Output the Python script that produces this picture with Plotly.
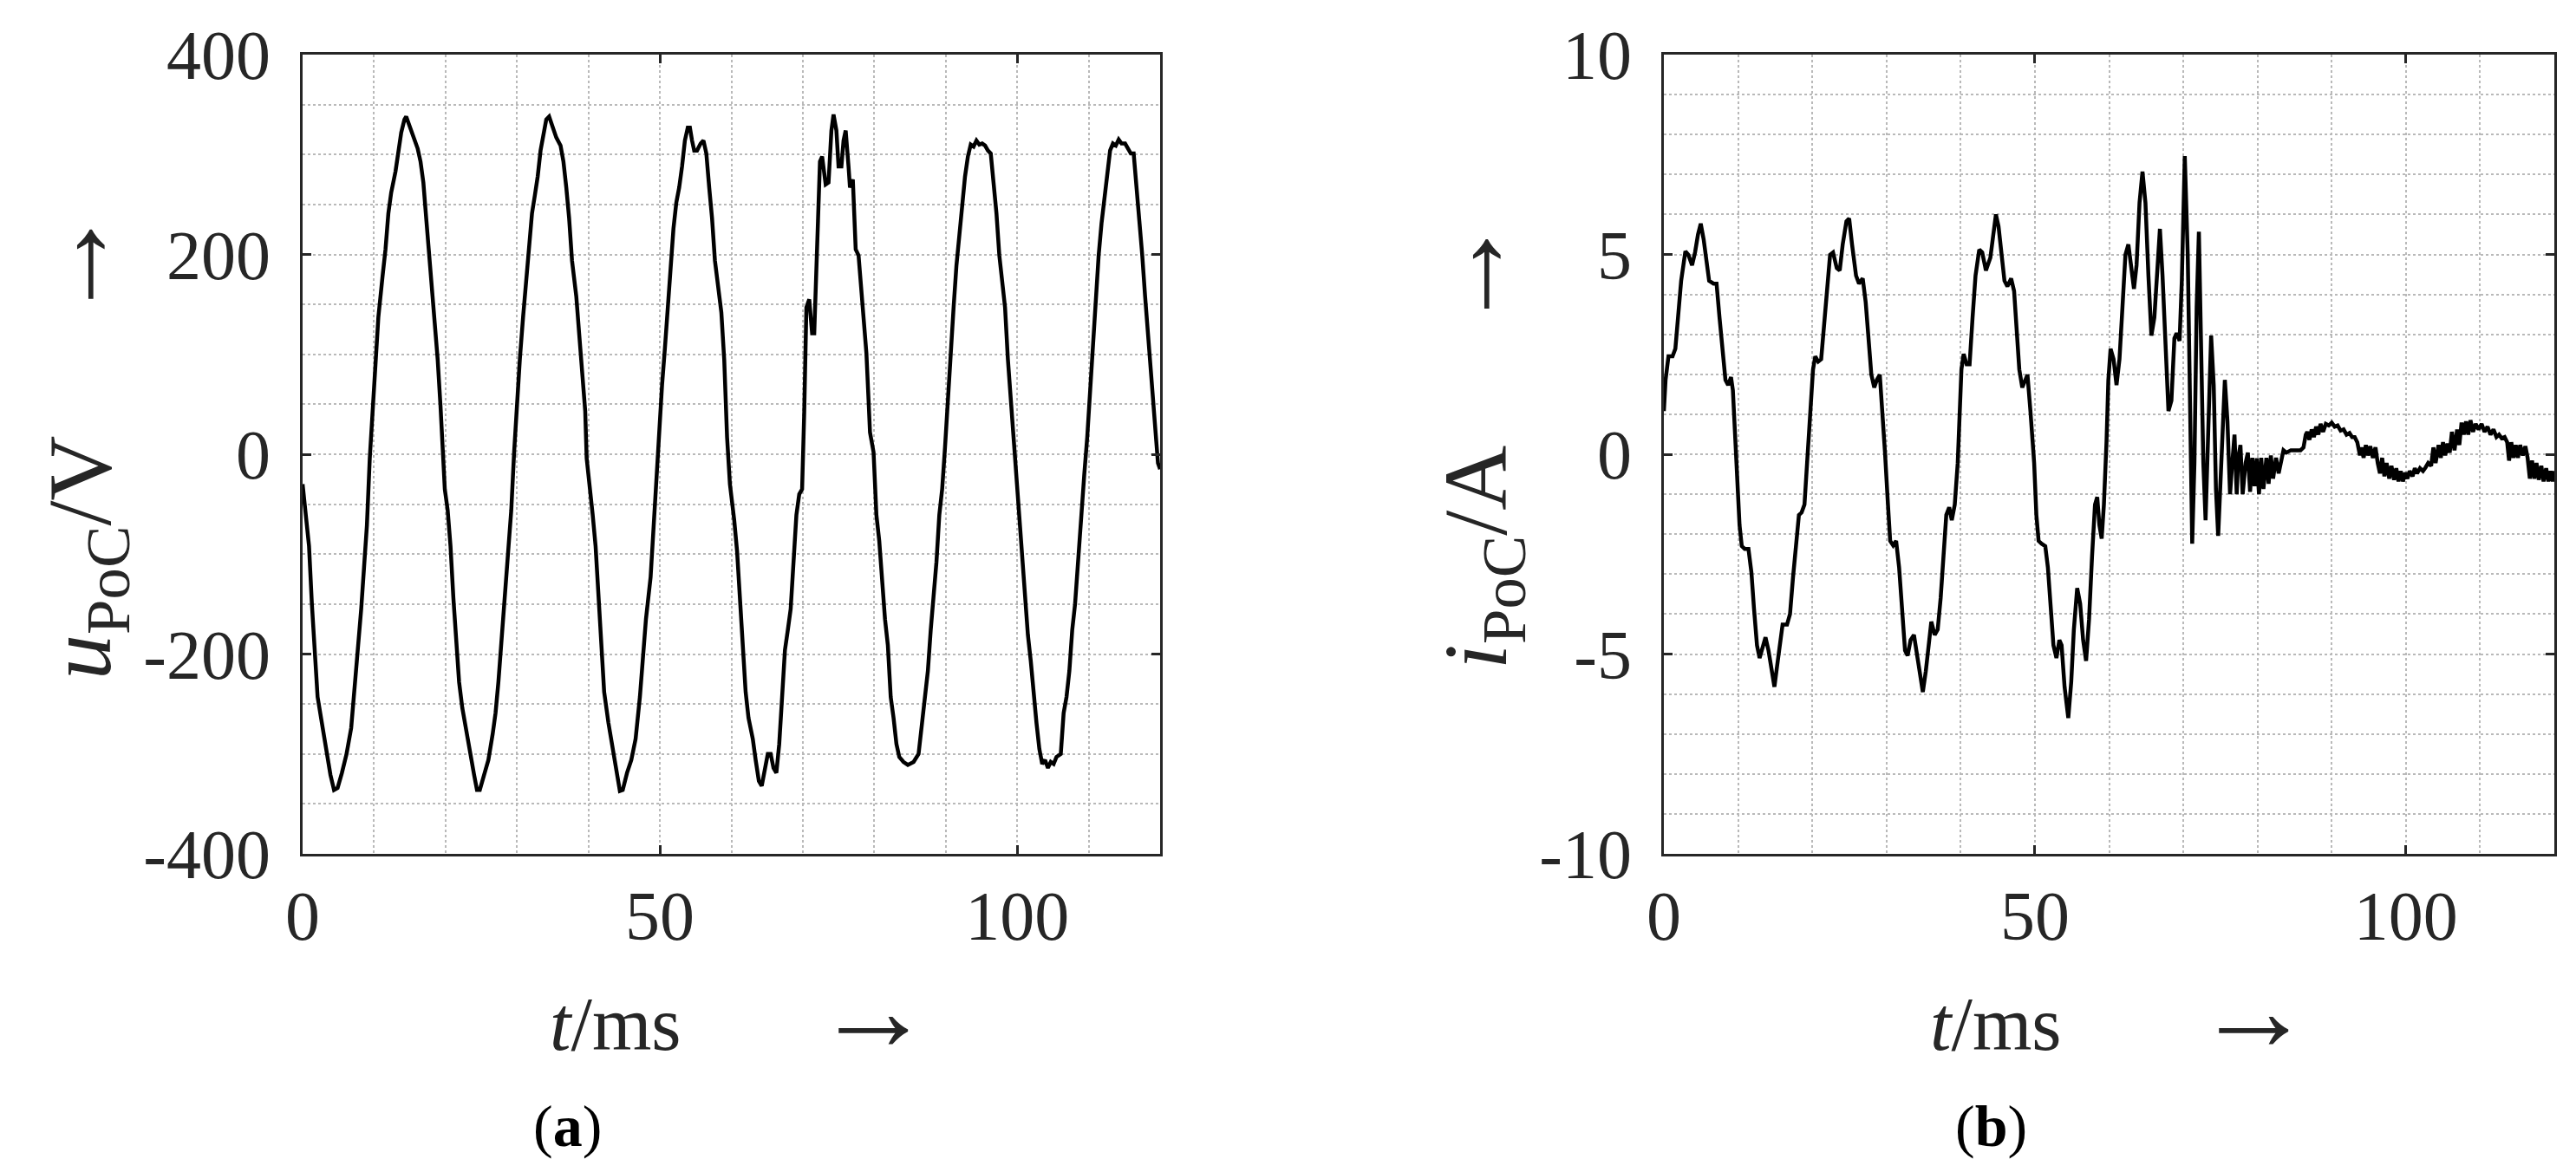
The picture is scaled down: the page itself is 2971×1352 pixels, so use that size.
import plotly.graph_objects as go

# ---------------- data ----------------
t_u = [0, 0.5, 0.9, 1.3, 1.7, 2.1, 2.7, 3.3, 3.9, 4.4, 4.9, 5.5, 6.15, 6.8, 7.2, 7.6, 8.2, 8.6, 9.0, 9.4,
       9.8, 10.2, 10.6, 11.2, 11.6, 12.0, 12.4, 13.0, 13.4, 13.8, 14.25, 14.5, 14.9, 15.5, 16.1, 16.5, 16.9,
       17.3, 17.7, 18.1, 18.5, 18.9, 19.3, 19.6, 19.9, 20.3, 20.7, 21.1, 21.5, 21.9, 22.35, 22.75, 23.4, 24.0,
       24.4, 24.8, 25.4, 26.0, 26.6, 27.0, 27.4, 27.8, 28.4, 28.8, 29.2, 29.6, 30.0, 30.4, 30.85, 31.3, 31.7,
       32.1, 32.5, 32.9, 33.3, 33.7, 34.1, 34.5, 34.9, 35.5, 36.1, 36.5, 36.9, 37.3, 37.7, 38.3, 38.7, 39.15,
       39.55, 39.75, 40.2, 40.6, 41.0, 41.4, 41.8, 42.2, 42.8, 43.4, 44.0, 44.4, 44.8, 45.4, 46.0, 46.6, 47.2,
       47.65, 48.05, 48.7, 49.1, 49.5, 49.9, 50.3, 50.7, 51.1, 51.5, 51.9, 52.3, 52.7, 53.1, 53.5, 53.9, 54.2,
       54.5, 54.8, 55.2, 55.7, 56.1, 56.5, 56.9, 57.3, 57.7, 58.2, 58.6, 59.0, 59.4, 59.8, 60.0, 60.4, 60.8,
       61.2, 61.6, 62.0, 62.4, 63.0, 63.4, 63.85, 64.25, 64.65, 65.1, 65.5, 65.9, 66.3, 66.7, 67.1, 67.5, 67.9,
       68.3, 68.7, 69.1, 69.5, 69.9, 70.2, 70.5, 70.9, 71.3, 71.6, 72.0, 72.4, 72.7, 73.2, 73.6, 74.0, 74.3,
       74.7, 75.0, 75.4, 75.7, 76.0, 76.4, 76.6, 77.0, 77.4, 77.8, 78.2, 78.6, 78.9, 79.2, 79.4, 79.9, 80.3,
       80.7, 81.1, 81.5, 81.9, 82.3, 82.7, 83.1, 83.5, 84.1, 84.7, 85.5, 86.2, 86.7, 87.1, 87.5, 87.9, 88.3,
       88.7, 89.1, 89.5, 89.9, 90.3, 90.7, 91.1, 91.5, 91.9, 92.3, 92.7, 93.1, 93.5, 93.9, 94.3, 94.7, 95.1,
       95.5, 95.9, 96.3, 96.7, 97.1, 97.5, 97.9, 98.3, 98.7, 99.1, 99.5, 99.9, 100.3, 100.7, 101.1, 101.5,
       101.9, 102.3, 102.7, 103.1, 103.5, 103.9, 104.3, 104.7, 105.1, 105.5, 106.1, 106.5, 106.9, 107.3,
       107.7, 108.1, 108.5, 108.9, 109.4, 109.8, 110.2, 110.6, 111.0, 111.4, 111.8, 112.2, 112.6, 113.0,
       113.4, 113.8, 114.2, 114.6, 115.1, 115.5, 115.9, 116.3, 116.7, 117.1, 117.5, 117.9, 118.3, 118.7,
       119.1, 119.5, 119.7, 120.0]
u_vals = [-30, -61, -92, -150, -202, -243, -269, -295, -321, -336, -334, -319, -300, -274, -243, -202, -155,
          -113, -71, -4, 48, 90, 137, 179, 205, 241, 262, 283, 304, 322, 335, 338, 330, 317, 306, 293, 272,
          236, 199, 168, 137, 95, 48, -4, -35, -56, -92, -144, -191, -228, -254, -269, -295, -321, -336,
          -336, -321, -306, -280, -259, -228, -191, -139, -103, -56, 2, 54, 95, 137, 173, 199, 241, 259, 278,
          304, 322, 335, 338, 330, 317, 309, 293, 267, 236, 194, 158, 121, 85, 43, -4, -40, -61, -92, -144,
          -191, -238, -269, -295, -321, -337, -336, -319, -306, -285, -243, -202, -165, -123, -71, -24, 22,
          69, 106, 147, 189, 226, 252, 267, 288, 314, 327, 327, 314, 304, 304, 311, 314, 301, 267, 236, 194,
          168, 142, 95, 17, -30, -40, -66, -97, -144, -196, -238, -264, -285, -306, -327, -332, -316, -300,
          -300, -314, -319, -290, -243, -196, -176, -155, -108, -61, -40, -35, 43, 147, 155, 121, 121, 199,
          293, 298, 270, 272, 324, 340, 324, 288, 288, 314, 324, 288, 267, 275, 205, 199, 163, 116, 101, 54,
          22, 2, -61, -87, -129, -165, -191, -243, -264, -290, -303, -308, -311, -308, -300, -269, -243,
          -217, -176, -144, -108, -61, -35, 7, 59, 106, 147, 189, 220, 252, 278, 298, 310, 308, 314, 310,
          311, 309, 304, 301, 272, 241, 199, 168, 147, 95, 54, 17, -24, -61, -108, -144, -181, -207, -243,
          -269, -295, -310, -306, -314, -308, -310, -303, -300, -259, -243, -217, -176, -150, -108, -61,
          -19, 17, 64, 106, 147, 199, 231, 257, 278, 304, 311, 309, 315, 311, 311, 306, 301, 301, 267, 241,
          199, 158, 121, 80, 54, 12, -9, -15]

t_i = [0, 0.23, 0.62, 1.17, 1.55, 1.94, 2.33, 2.9, 3.3, 3.8, 4.2, 4.6, 4.97, 5.36, 5.75, 6.1, 6.7, 7.1, 7.5,
       7.9, 8.3, 8.66, 9.05, 9.3, 9.6, 9.9, 10.2, 10.5, 10.9, 11.4, 11.8, 12.15, 12.55, 12.9, 13.3, 13.7,
       14.1, 14.5, 14.9, 15.26, 15.65, 16.0, 16.6, 17.0, 17.4, 17.8, 18.2, 18.56, 18.95, 19.3, 19.7, 20.1,
       20.4, 20.8, 21.2, 21.6, 22.06, 22.4, 22.8, 23.3, 23.7, 24.1, 24.6, 24.97, 25.36, 25.9, 26.3, 26.8,
       27.2, 27.6, 27.96, 28.35, 28.7, 29.1, 29.4, 29.8, 30.2, 30.5, 30.9, 31.3, 31.7, 32.1, 32.5, 32.85,
       33.25, 33.7, 34.1, 34.5, 34.9, 35.3, 35.65, 36.04, 36.5, 36.9, 37.3, 37.7, 38.06, 38.45, 38.8, 39.2,
       39.6, 40.1, 40.4, 40.8, 41.2, 41.6, 42.0, 42.5, 42.9, 43.4, 44.0, 44.4, 44.75, 45.1, 45.5, 45.9, 46.3,
       46.8, 47.2, 47.55, 47.9, 48.3, 48.7, 49.0, 49.4, 49.9, 50.2, 50.5, 50.9, 51.4, 51.75, 52.1, 52.5,
       52.9, 53.3, 53.6, 54.0, 54.5, 54.9, 55.25, 55.7, 56.1, 56.5, 56.9, 57.3, 57.7, 58.1, 58.4, 58.7,
       59.0, 59.3, 59.65, 59.9, 60.2, 60.6, 61.0, 61.4, 61.8, 62.2, 62.6, 62.95, 63.35, 63.7, 64.1, 64.5,
       64.9, 65.3, 65.7, 66.1, 66.5, 66.85, 67.2, 67.6, 68.0, 68.4, 68.8, 69.1, 69.5, 69.8, 70.2, 70.6,
       70.9, 71.2, 71.5, 71.8, 72.1, 72.4, 72.7, 73.0, 73.35, 73.75, 74.1, 74.4, 74.7, 75.1, 75.6, 75.95,
       76.3, 76.6, 76.9, 77.2, 77.4, 77.7, 78.0, 78.4, 78.7, 79.0, 79.3, 79.6, 79.9, 80.2, 80.5, 80.8, 81.2,
       81.5, 81.8, 82.1, 82.5, 82.85, 83.2, 83.5, 83.9, 84.5, 85.1, 85.8, 86.2, 86.5, 86.7, 87.0, 87.3,
       87.6, 87.9, 88.2, 88.5, 88.85, 89.2, 89.6, 90.0, 90.4, 90.8, 91.2, 91.6, 92.0, 92.4, 92.75, 93.1,
       93.45, 93.8, 94.0, 94.3, 94.6, 94.9, 95.2, 95.55, 95.9, 96.2, 96.5, 96.8, 97.1, 97.4, 97.75, 98.05,
       98.4, 98.7, 99.0, 99.3, 99.6, 99.9, 100.2, 100.5, 100.9, 101.2, 101.5, 101.9, 102.3, 102.65, 103.0,
       103.4, 103.7, 104.0, 104.4, 104.7, 105.0, 105.3, 105.6, 105.9, 106.2, 106.55, 106.9, 107.2, 107.5,
       107.8, 108.1, 108.4, 108.7, 109.05, 109.4, 109.8, 110.2, 110.6, 111.0, 111.4, 111.8, 112.2, 112.55,
       112.9, 113.3, 113.65, 113.9, 114.2, 114.5, 114.8, 115.1, 115.4, 115.75, 116.1, 116.4, 116.7, 117.0,
       117.3, 117.6, 117.9, 118.25, 118.55, 118.9, 119.2, 119.5, 119.8, 120.0]
i_vals = [1.08, 1.86, 2.45, 2.45, 2.64, 3.42, 4.34, 5.08, 4.99, 4.73, 5.05, 5.5, 5.77, 5.38, 4.86, 4.34,
          4.27, 4.27, 3.42, 2.64, 1.86, 1.73, 1.93, 1.6, 0.56, -0.61, -1.78, -2.3, -2.37, -2.37, -2.96,
          -3.87, -4.78, -5.1, -4.84, -4.58, -4.91, -5.43, -5.82, -5.3, -4.65, -4.26, -4.26, -4.0, -3.09,
          -2.17, -1.52, -1.46, -1.26, -0.22, 1.08, 2.12, 2.45, 2.32, 2.38, 3.3, 4.2, 4.99, 5.05, 4.66, 4.6,
          5.25, 5.83, 5.9, 5.25, 4.47, 4.27, 4.4, 3.8, 2.9, 1.99, 1.67, 1.86, 1.99, 1.21, 0.04, -1.26, -2.17,
          -2.28, -2.17, -2.83, -3.87, -4.91, -5.04, -4.65, -4.52, -5.04, -5.56, -5.95, -5.43, -4.78, -4.19,
          -4.52, -4.39, -3.6, -2.43, -1.52, -1.33, -1.65, -1.26, -0.22, 2.12, 2.51, 2.25, 2.25, 3.42, 4.47,
          5.12, 5.05, 4.6, 4.92, 5.5, 6.0, 5.7, 4.99, 4.34, 4.2, 4.4, 4.08, 3.03, 2.12, 1.67, 1.86, 1.99,
          1.08, -0.22, -1.52, -2.17, -2.24, -2.3, -2.83, -3.87, -4.78, -5.1, -4.65, -4.78, -5.82, -6.6,
          -5.69, -4.39, -3.35, -3.74, -4.65, -5.17, -4.13, -2.56, -1.26, -1.07, -1.78, -2.11, -1.26, 0.3,
          1.86, 2.64, 2.38, 1.73, 2.38, 3.68, 4.99, 5.25, 4.73, 4.14, 4.73, 6.29, 7.07, 6.29, 4.47, 2.97,
          3.42, 4.73, 5.64, 4.47, 2.64, 1.08, 1.34, 2.9, 3.03, 2.84, 4.34, 7.46, 4.99, 1.08, -2.24, -0.22,
          3.68, 5.57, 2.38, -0.22, -1.65, 0.43, 2.97, 1.73, -0.87, -2.04, -0.22, 1.86, 0.82, -1.0, -0.22,
          0.49, -1.0, -0.09, 0.23, -1.0, -0.22, 0.04, -0.94, -0.09, -0.8, -0.1, -1.0, -0.09, -0.87, -0.09,
          -0.74, -0.03, -0.61, -0.09, -0.48, -0.22, 0.1, 0.04, 0.1, 0.1, 0.1, 0.17, 0.49, 0.56, 0.36, 0.62,
          0.43, 0.69, 0.49, 0.76, 0.56, 0.76, 0.72, 0.79, 0.69, 0.72, 0.59, 0.62, 0.49, 0.53, 0.43, 0.43,
          0.3, -0.03, 0.17, -0.09, 0.23, -0.03, 0.2, -0.09, 0.17, -0.22, -0.48, -0.09, -0.55, -0.22, -0.61,
          -0.29, -0.64, -0.35, -0.68, -0.42, -0.68, -0.46, -0.61, -0.42, -0.55, -0.35, -0.48, -0.35, -0.42,
          -0.33, -0.22, -0.29, 0.17, -0.22, 0.23, -0.09, 0.3, -0.03, 0.27, 0.04, 0.56, 0.1, 0.62, 0.23,
          0.79, 0.49, 0.82, 0.49, 0.85, 0.56, 0.76, 0.62, 0.76, 0.56, 0.69, 0.49, 0.62, 0.43, 0.49, 0.4,
          0.43, 0.3, -0.16, 0.3, -0.09, 0.23, -0.09, 0.23, -0.03, 0.2, -0.09, -0.61, -0.16, -0.61, -0.22,
          -0.64, -0.29, -0.68, -0.35, -0.68, -0.42, -0.68, -0.42]

x_ticks = [0, 50, 100]
u_ticks = [-400, -200, 0, 200, 400]
u_ticktext = ["-400", "-200", "0", "200", "400"]
i_ticks = [-10, -5, 0, 5, 10]
i_ticktext = ["-10", "-5", "0", "5", "10"]

# ---------------- figure ----------------
W, H = 2971, 1352          # browser window
OFF = 8                    # default page body margin
FW, FH = W - 2 * OFF, H - 2 * OFF
FONT = "Liberation Serif"
TXT = "#262626"
GRID = "#b9b9b9"

fig = go.Figure()
fig.add_trace(go.Scatter(x=t_u, y=u_vals, mode="lines", line=dict(color="black", width=4.5),
                         xaxis="x", yaxis="y", showlegend=False))
fig.add_trace(go.Scatter(x=t_i, y=i_vals, mode="lines", line=dict(color="black", width=4.5),
                         xaxis="x2", yaxis="y2", showlegend=False))


def px_x(p):
    return (p - OFF) / FW


def px_y(p):
    return 1 - (p - OFF) / FH


def axis_common(tickvals, ticktext, rng, minor_dtick, anchor, domain, is_x):
    d = dict(
        domain=domain, anchor=anchor, range=rng, tickmode="array", tickvals=tickvals,
        ticks="inside", ticklen=10, tickwidth=3, tickcolor=TXT,
        showline=True, linewidth=3, linecolor=TXT, mirror="ticks",
        showgrid=True, gridcolor=GRID, gridwidth=2, griddash="dot",
        minor=dict(dtick=minor_dtick, tick0=0, showgrid=True, gridcolor=GRID, gridwidth=2,
                   griddash="dot", ticks=""),
        zeroline=False, tickfont=dict(family=FONT, size=80, color=TXT),
        ticklabelstandoff=0 if is_x else 18, fixedrange=True, automargin=False,
    )
    if ticktext is not None:
        d["ticktext"] = ticktext
    return d


xd1 = [px_x(349), px_x(1338)]
xd2 = [px_x(1919), px_x(2946)]
yd = [px_y(985), px_y(63)]

fig.update_layout(
    width=FW, height=FH, autosize=False,
    margin=dict(l=0, r=0, t=0, b=0, pad=0, autoexpand=False),
    paper_bgcolor="white", plot_bgcolor="white",
    xaxis=axis_common(x_ticks, None, [0, 120], 10, "y", xd1, True),
    yaxis=axis_common(u_ticks, u_ticktext, [-400, 400], 50, "x", yd, False),
    xaxis2=axis_common(x_ticks, None, [0, 120], 10, "y2", xd2, True),
    yaxis2=axis_common(i_ticks, i_ticktext, [-10, 10], 1, "x2", yd, False),
)

NB = "\u00a0"
ARROW = "<span style=\"font-size:135px\">→</span>"
xtitle = "<i>t</i>/ms" + NB * 7 + ARROW
ann = [
    dict(text=xtitle, x=px_x(854), y=px_y(1165), size=88),
    dict(text=xtitle, x=px_x(2446), y=px_y(1165), size=88),
    dict(text="<i>u</i><sub>PoC</sub>/V" + NB * 5 + ARROW, x=px_x(86), y=px_y(511),
         textangle=-90, size=104),
    dict(text="<i>i</i><sub>PoC</sub>/A" + NB * 5 + ARROW, x=px_x(1696), y=px_y(511),
         textangle=-90, size=104),
]
for a in ann:
    sz = a.pop("size")
    fig.add_annotation(xref="paper", yref="paper", showarrow=False, xanchor="center", yanchor="middle",
                       font=dict(family=FONT, size=sz, color=TXT), **a)

for lab, xc in (("a", 654), ("b", 2296)):
    fig.add_annotation(xref="paper", yref="paper", showarrow=False, xanchor="center", yanchor="middle",
                       x=px_x(xc), y=px_y(1299), text="(<b>" + lab + "</b>)",
                       font=dict(family=FONT, size=68, color="black"))

fig.write_html("out.html")
